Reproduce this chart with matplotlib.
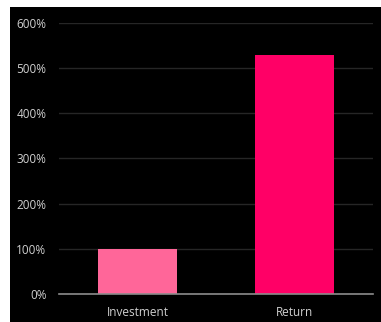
import matplotlib
matplotlib.use("Agg")
import matplotlib.pyplot as plt
from matplotlib.patches import Rectangle
from matplotlib.ticker import FuncFormatter

categories = ["Investment", "Return"]
values = [100, 529]
colors = ["#FF6699", "#FF0066"]
yticks = [0, 100, 200, 300, 400, 500, 600]

W, H = 381, 322
fig = plt.figure(figsize=(W / 100, H / 100), dpi=100, facecolor="white")
bg = Rectangle((10 / W, 0), (W - 10) / W, (H - 7) / H,
               transform=fig.transFigure, facecolor="black",
               edgecolor="none", zorder=-10)
fig.add_artist(bg)

left, right, top, bottom = 59, 373, 23, 294
ax = fig.add_axes([left / W, 1 - bottom / H, (right - left) / W, (bottom - top) / H])
ax.set_zorder(1)
ax.set_facecolor("black")

x = list(range(len(categories)))
ax.bar(x, values, width=0.5, color=colors, zorder=3)
ax.set_xlim(-0.5, len(categories) - 0.5)
ax.set_ylim(0, 600)
ax.set_yticks(yticks)
ax.yaxis.set_major_formatter(FuncFormatter(lambda v, p: f"{int(v)}%"))
ax.set_xticks(x)
ax.set_xticklabels(categories)

ax.grid(axis="y", color="#262626", linewidth=1, zorder=1)
ax.set_axisbelow(True)
for s in ["top", "right", "left"]:
    ax.spines[s].set_visible(False)
ax.spines["bottom"].set_color("#8c8c8c")
ax.spines["bottom"].set_linewidth(1.2)
ax.spines["bottom"].set_zorder(4)
ax.tick_params(axis="both", length=0, colors="#d0d0d0", labelsize=8.5)
ax.tick_params(axis="y", pad=9)
ax.tick_params(axis="x", pad=9)
for lab in ax.get_xticklabels() + ax.get_yticklabels():
    lab.set_fontfamily("Open Sans")

fig.savefig("out.png", dpi=100, facecolor="white")
